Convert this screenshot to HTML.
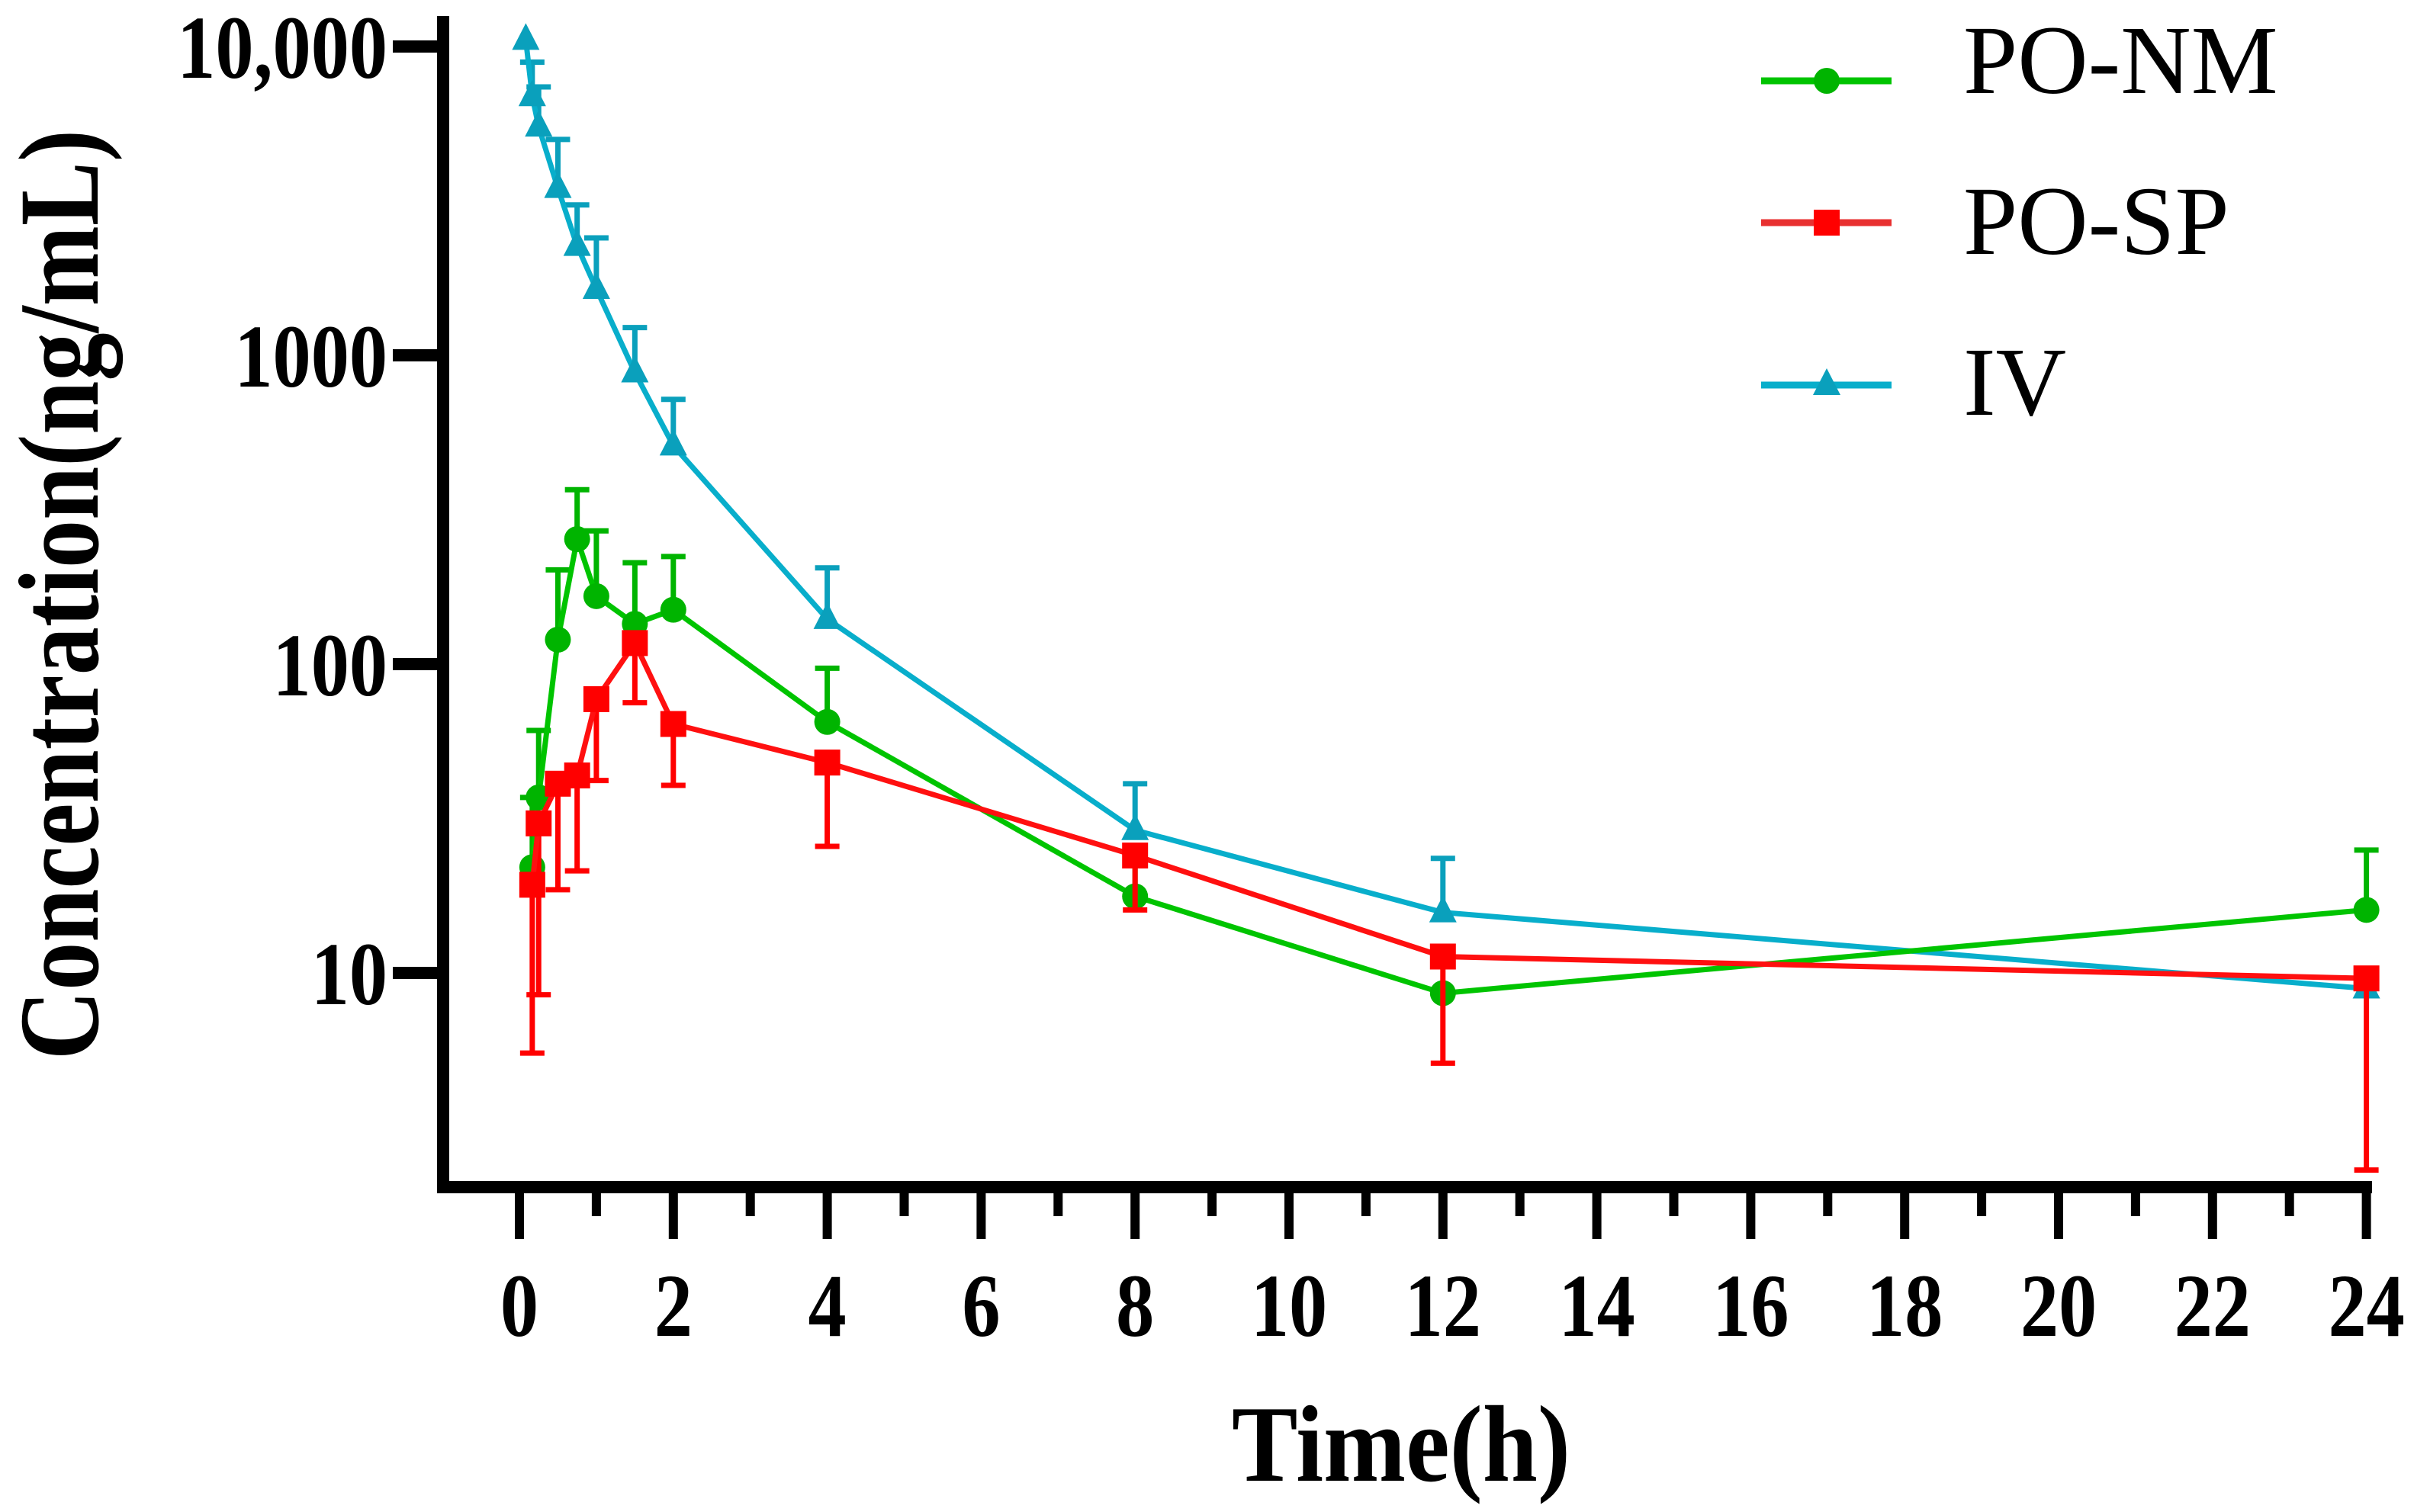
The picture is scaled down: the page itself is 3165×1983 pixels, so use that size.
<!DOCTYPE html>
<html><head><meta charset="utf-8">
<style>
html,body{margin:0;padding:0;background:#fff;}
svg{display:block;}
text{font-family:"Liberation Serif",serif;fill:#000;}
</style></head>
<body>
<svg id="chart" width="3165" height="1983" viewBox="0 0 3165 1983" xmlns="http://www.w3.org/2000/svg">
<g id="axes"></g>
<g id="series"></g>
<g id="legend"></g>
<text transform="translate(128,780) rotate(-90)" text-anchor="middle" font-weight="bold" font-size="150" textLength="1220" lengthAdjust="spacingAndGlyphs">Concentration(ng/mL)</text>
<text x="1837" y="1942" text-anchor="middle" font-weight="bold" font-size="143" textLength="444" lengthAdjust="spacingAndGlyphs">Time(h)</text>
</svg>
<script>
const times = [0.083,0.167,0.25,0.5,0.75,1,1.5,2,4,8,12,24];
const nmValues = [null,22,37,120,254,166,135,150,65,17.7,8.6,16];
const nmErrHi  = [null,37,61,202,367,270,213,223,97,24,8.6,25];
const spValues = [null,19.3,30.5,41,43.6,77,117,64,48,24,11.3,9.6];
const spErrLo  = [null,5.5,8.5,18.6,21.4,42,75,40.5,25.7,16,5.1,2.3];
const ivValues = [10500,6900,5500,3480,2260,1640,880,510,140,29,15.7,8.9];
const ivErrHi  = [10500,8900,7400,5000,3070,2400,1230,720,205,41,23.5,8.9];
const xTicks = [0,2,4,6,8,10,12,14,16,18,20,22,24];
const yTicks = [10,100,1000,10000];
const yTickLabels = ["10","100","1000","10,000"];
const legendLabels = ["PO-NM","PO-SP","IV"];

const NS="http://www.w3.org/2000/svg";
const X0=681, XS=100.9, Y4=61, DEC=405;
function xPx(t){return X0+t*XS;}
function yPx(v){return Y4+(4-Math.log10(v))*DEC;}
function mk(tag,attrs,parent){const e=document.createElementNS(NS,tag);for(const k in attrs)e.setAttribute(k,attrs[k]);parent.appendChild(e);return e;}

const axes=document.getElementById('axes');
let yl=mk('line',{x1:581,y1:21,x2:581,y2:1565,stroke:'#000','stroke-width':16},axes);


let xl=mk('line',{x1:573,y1:1557,x2:3110,y2:1557,stroke:'#000','stroke-width':16},axes);


for(let h=0;h<=24;h++){
  const major=h%2===0;
  const t=mk('line',{x1:xPx(h),y1:1557,x2:xPx(h),y2:major?1625:1595,stroke:'#000','stroke-width':12},axes);
  
  
}
xTicks.forEach(v=>{
  const g=mk('g',{transform:`translate(${xPx(v)},1752) scale(0.85,1)`},axes);
  const tx=mk('text',{'text-anchor':'middle','font-size':118,'font-weight':'bold'},g);
  tx.textContent=String(v);
  
  
});
yTicks.forEach((v,i)=>{
  const y=yPx(v);
  const t=mk('line',{x1:515,y1:y,x2:581,y2:y,stroke:'#000','stroke-width':16},axes);
  
  
  const g=mk('g',{transform:`translate(508,${y+41}) scale(0.85,1)`},axes);
  const tx=mk('text',{'text-anchor':'end','font-size':118,'font-weight':'bold'},g);
  tx.textContent=yTickLabels[i];
  
  
});

const series=document.getElementById('series');
function marker(shape,x,y,color,parent){
  let m;
  if(shape==='circle') m=mk('circle',{cx:x,cy:y,r:17,fill:color},parent);
  else if(shape==='square') m=mk('rect',{x:x-17,y:y-17,width:34,height:34,fill:color},parent);
  else m=mk('polygon',{points:`${x},${y-22} ${x-18},${y+13} ${x+18},${y+13}`,fill:color},parent);
  return m;
}
function drawSeries(name,vals,errs,color,mcolor,shape){
  const g=mk('g',{},series);
  
  
  const pts=[];
  times.forEach((t,i)=>{ if(vals[i]!=null) pts.push([xPx(t),yPx(vals[i]),i]); });
  pts.forEach(p=>{
    const e=errs[p[2]]; if(e==null) return;
    const ye=yPx(e); if(Math.abs(ye-p[1])<3) return;
    const eb=mk('g',{},g);
    
    
    mk('line',{x1:p[0],y1:p[1],x2:p[0],y2:ye,stroke:mcolor,'stroke-width':7},eb);
    mk('line',{x1:p[0]-16,y1:ye,x2:p[0]+16,y2:ye,stroke:mcolor,'stroke-width':7},eb);
  });
  const pl=mk('polyline',{points:pts.map(p=>p[0]+','+p[1]).join(' '),fill:'none',stroke:color,'stroke-width':7,'stroke-linejoin':'round'},g);
  
  
  pts.forEach(p=>{
    const m=marker(shape,p[0],p[1],mcolor,g);
    
    
  });
}
drawSeries('iv',ivValues,ivErrHi,'#08aecb','#0aa0bc','tri');
drawSeries('po-nm',nmValues,nmErrHi,'#00c400','#00b400','circle');
drawSeries('po-sp',spValues,spErrLo,'#ff1010','#ff0000','square');

const legend=document.getElementById('legend');
const lg=[['#00c400','#00b400','circle',106,122],['#e83030','#ff0000','square',292,333],['#08aecb','#0aa0bc','tri',505,544]];
lg.forEach((d,i)=>{
  const g=mk('g',{},legend);
  
  
  mk('line',{x1:2309,y1:d[3],x2:2480,y2:d[3],stroke:d[0],'stroke-width':9},g);
  marker(d[2],2395,d[3],d[1],g);
  const tx=mk('text',{x:2574,y:d[4],'font-size':128},g);
  tx.textContent=legendLabels[i];
  
  
});
</script>
</body></html>
